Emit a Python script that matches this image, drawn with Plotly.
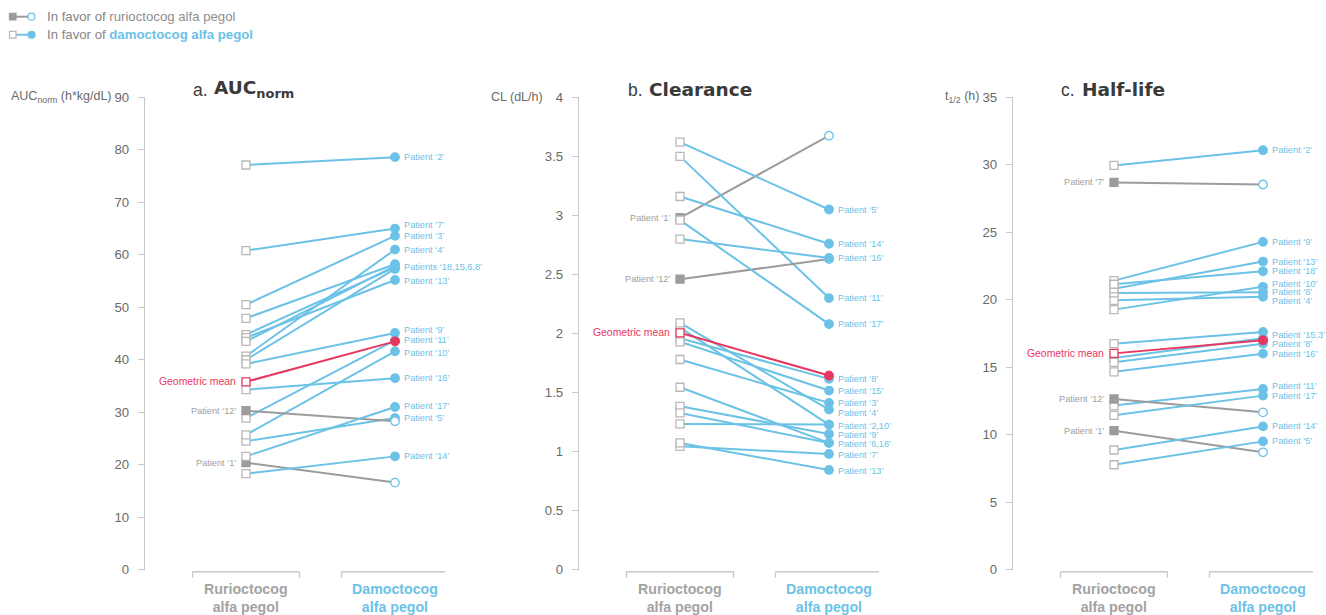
import plotly.graph_objects as go

W, H = 1326, 615
PAGE_PAD = 8          # page padding above/below the figure in the rendered page
PAGE_H = H + 2 * PAGE_PAD
FONT = "Liberation Sans, Arial, sans-serif"
TITLE_FONT = "DejaVu Sans, Liberation Sans, Arial, sans-serif"
BLUE = "#6CC2E6"
GRAY = "#9C9C9C"
RED = "#E8375F"
SQ_EDGE = "#B8B8B8"
AXIS = "#C8C8C8"
TICKTXT = "#6A6A6A"

categories = ["Rurioctocog", "Damoctocog"]
category_colors = ["#A3A3A3", BLUE]

# ---- per-patient values, index 0 -> patient 1 ... index 17 -> patient 18 ----
auc_ruri = [20.4, 77.1, 50.5, 40.7, 24.5, 44.8, 60.8, 40.0, 39.2,
            25.7, 28.9, 30.3, 44.2, 18.3, 43.5, 34.3, 21.6, 47.9]
auc_damo = [16.6, 78.6, 63.6, 61.0, 28.9, 57.6, 65.0, 57.3, 45.1,
            41.6, 43.7, 28.3, 55.2, 21.6, 57.9, 36.5, 31.0, 58.2]
auc_gm = [35.8, 43.5]

cl_ruri = [2.98, 2.05, 1.78, 2.09, 3.62, 1.545, 1.045, 1.96, 1.384,
           1.235, 3.50, 2.46, 1.074, 3.16, 1.93, 2.80, 2.96, 1.328]
cl_damo = [3.675, 1.229, 1.413, 1.356, 3.05, 1.074, 0.98, 1.616, 1.150,
           1.229, 2.30, 2.63, 0.845, 2.76, 1.517, 2.64, 2.08, 1.074]
cl_gm = [2.006, 1.644]

hl_ruri = [10.30, 29.95, 15.69, 19.96, 7.78, 20.51, 28.69, 15.37, 21.42,
           19.27, 12.16, 12.65, 20.81, 8.87, 16.75, 14.66, 11.44, 21.15]
hl_damo = [8.70, 31.08, 17.15, 20.22, 9.51, 20.56, 28.54, 16.75, 24.29,
           20.96, 13.39, 11.66, 22.83, 10.62, 17.62, 16.01, 12.90, 22.11]
hl_gm = [16.03, 17.00]

# right-hand labels: (text, patients whose damoctocog value anchors it, pixel nudge)
auc_labels = [("Patient ‘2’", [2], 0), ("Patient ‘7’", [7], 4), ("Patient ‘3’", [3], 0),
              ("Patient ‘4’", [4], 0), ("Patients ‘18,15,6,8’", [18, 15, 6, 8], 0),
              ("Patient ‘13’", [13], -1), ("Patient ‘9’", [9], 3), ("Patient ‘11’", [11], 0),
              ("Patient ‘10’", [10], -2), ("Patient ‘16’", [16], 0), ("Patient ‘17’", [17], 1),
              ("Patient ‘5’", [5], 0), ("Patient ‘14’", [14], 0)]
cl_labels = [("Patient ‘5’", [5], 0), ("Patient ‘14’", [14], 0), ("Patient ‘16’", [16], 0),
             ("Patient ‘11’", [11], 0), ("Patient ‘17’", [17], 0), ("Patient ‘8’", [8], 0),
             ("Patient ‘15’", [15], 0), ("Patient ‘3’", [3], 0), ("Patient ‘4’", [4], -3),
             ("Patient ‘2,10’", [2, 10], -1), ("Patient ‘9’", [9], -1),
             ("Patient ‘6,18’", [6, 18], -1), ("Patient ‘7’", [7], -1), ("Patient ‘13’", [13], -1)]
hl_labels = [("Patient ‘2’", [2], 0), ("Patient ‘9’", [9], 0), ("Patient ‘13’", [13], 0),
             ("Patient ‘18’", [18], 0), ("Patient ‘10’", [10], 3), ("Patient ‘6’", [6], 0),
             ("Patient ‘4’", [4], -4), ("Patient ‘15,3’", [15], -3), ("Patient ‘8’", [8], 0),
             ("Patient ‘16’", [16], 0), ("Patient ‘11’", [11], 3), ("Patient ‘17’", [17], 0),
             ("Patient ‘14’", [14], 0), ("Patient ‘5’", [5], 0)]

panels = [
    dict(key="", letter="a.", name="AUC<sub>norm</sub>", ytitle="AUC<sub>norm</sub> (h*kg/dL)",
         ruri=auc_ruri, damo=auc_damo, gm=auc_gm, higher_better=True, labels=auc_labels,
         yrange=[0, 90], dtick=10, axis_px=145, title_px=192, ytitle_px=10),
    dict(key="2", letter="b.", name="Clearance", ytitle="CL (dL/h)",
         ruri=cl_ruri, damo=cl_damo, gm=cl_gm, higher_better=False, labels=cl_labels,
         yrange=[0, 4], dtick=0.5, axis_px=579, title_px=627, ytitle_px=490),
    dict(key="3", letter="c.", name="Half-life", ytitle="t<sub>1/2</sub> (h)",
         ruri=hl_ruri, damo=hl_damo, gm=hl_gm, higher_better=True, labels=hl_labels,
         yrange=[0, 35], dtick=5, axis_px=1013, title_px=1060, ytitle_px=944),
]

PLOT_TOP, PLOT_BOT = 98, 570
PX_PER_CAT = 149
LEFT_OFFSET = 101
DOMAIN_W = 300


def px(x):
    return x / W


def py(y):
    # layout position (page pixels, page scaled to H) -> paper fraction
    y_fig = y * PAGE_H / H - PAGE_PAD
    return 1 - y_fig / H


fig = go.Figure()
annotations = []
shapes = []

for p in panels:
    xa, ya = "x" + p["key"], "y" + p["key"]
    ruri, damo = p["ruri"], p["damo"]
    n = len(ruri)
    favors_damo = [(damo[i] > ruri[i]) == p["higher_better"] for i in range(n)]

    # connecting lines
    for i in range(n):
        fig.add_trace(go.Scatter(
            x=[0, 1], y=[ruri[i], damo[i]], mode="lines", xaxis=xa, yaxis=ya,
            line=dict(color=BLUE if favors_damo[i] else GRAY, width=2),
            hoverinfo="skip", showlegend=False, cliponaxis=False))
    fig.add_trace(go.Scatter(
        x=[0, 1], y=p["gm"], mode="lines", xaxis=xa, yaxis=ya,
        line=dict(color=RED, width=2), hoverinfo="skip", showlegend=False, cliponaxis=False))

    # rurioctocog squares
    fig.add_trace(go.Scatter(
        x=[0] * n, y=ruri, mode="markers", xaxis=xa, yaxis=ya,
        marker=dict(symbol="square", size=8,
                    color=["white" if f else GRAY for f in favors_damo],
                    line=dict(color=[SQ_EDGE if f else GRAY for f in favors_damo], width=1.3)),
        showlegend=False, cliponaxis=False))
    # damoctocog circles
    fig.add_trace(go.Scatter(
        x=[1] * n, y=damo, mode="markers", xaxis=xa, yaxis=ya,
        marker=dict(symbol="circle", size=8.5,
                    color=[BLUE if f else "white" for f in favors_damo],
                    line=dict(color=BLUE, width=1.3)),
        showlegend=False, cliponaxis=False))
    # geometric mean markers
    fig.add_trace(go.Scatter(
        x=[0], y=[p["gm"][0]], mode="markers", xaxis=xa, yaxis=ya,
        marker=dict(symbol="square", size=8, color="white", line=dict(color=RED, width=1.3)),
        showlegend=False, cliponaxis=False))
    fig.add_trace(go.Scatter(
        x=[1], y=[p["gm"][1]], mode="markers", xaxis=xa, yaxis=ya,
        marker=dict(symbol="circle", size=9, color=RED, line=dict(color=RED, width=1)),
        showlegend=False, cliponaxis=False))

    # right labels
    for text, pts, nudge in p["labels"]:
        yv = sum(damo[k - 1] for k in pts) / len(pts)
        annotations.append(dict(
            x=1, y=yv, xref=xa, yref=ya, text=text, showarrow=False,
            xanchor="left", yanchor="middle", xshift=7, yshift=nudge,
            font=dict(family=FONT, size=9.2, color=BLUE)))
    # left labels for patients favouring rurioctocog
    for i in range(n):
        if not favors_damo[i]:
            annotations.append(dict(
                x=0, y=ruri[i], xref=xa, yref=ya, text=f"Patient ‘{i + 1}’", showarrow=False,
                xanchor="right", yanchor="middle", xshift=-8,
                font=dict(family=FONT, size=9.2, color="#A0A0A0")))
    annotations.append(dict(
        x=0, y=p["gm"][0], xref=xa, yref=ya, text="Geometric mean", showarrow=False,
        xanchor="right", yanchor="middle", xshift=-8,
        font=dict(family=FONT, size=10.4, color=RED)))

    # category brackets and names
    for c, (cat, col) in enumerate(zip(categories, category_colors)):
        for sh in (dict(x0=c - 0.359, x1=c + 0.359, y0=py(572), y1=py(572)),
                   dict(x0=c - 0.359, x1=c - 0.359, y0=py(572), y1=py(578)),
                   dict(x0=c + 0.359, x1=c + 0.359, y0=py(572), y1=py(578))):
            shapes.append(dict(type="line", xref=xa, yref="paper",
                               line=dict(color=AXIS, width=1.3), **sh))
        annotations.append(dict(
            x=c, y=py(579), xref=xa, yref="paper", text=f"<b>{cat}<br>alfa pegol</b>",
            showarrow=False, xanchor="center", yanchor="top",
            font=dict(family=FONT, size=14.2, color=col)))

    # panel title and y-axis title
    annotations.append(dict(
        x=px(p["title_px"] - 1), y=py(91), xref="paper", yref="paper", text=p["letter"],
        showarrow=False, xanchor="left", yanchor="middle",
        font=dict(family=FONT, size=17.5, color="#3A3A3A")))
    annotations.append(dict(
        x=px(p["title_px"] + 20), y=py(90), xref="paper", yref="paper", text=f"<b>{p['name']}</b>",
        showarrow=False, xanchor="left", yanchor="middle",
        font=dict(family=TITLE_FONT, size=18.5, color="#3A3A3A")))
    annotations.append(dict(
        x=px(p["ytitle_px"] - 1), y=py(98), xref="paper", yref="paper", text=p["ytitle"],
        showarrow=False, xanchor="left", yanchor="middle",
        font=dict(family=FONT, size=12.5, color=TICKTXT)))

    x0 = p["axis_px"]
    fig.update_layout(**{
        "xaxis" + p["key"]: dict(
            domain=[px(x0), px(x0 + DOMAIN_W)],
            range=[-LEFT_OFFSET / PX_PER_CAT, (DOMAIN_W - LEFT_OFFSET) / PX_PER_CAT],
            visible=False, anchor=ya),
        "yaxis" + p["key"]: dict(
            domain=[py(PLOT_BOT), py(PLOT_TOP)], range=p["yrange"], dtick=p["dtick"],
            showline=True, linecolor=AXIS, linewidth=1.3, ticks="outside", ticklen=6,
            tickcolor=AXIS, tickwidth=1.3, showgrid=False, zeroline=False, anchor=xa,
            tickfont=dict(family=FONT, size=13.2, color=TICKTXT), ticklabelstandoff=6),
    })

# legend drawn at top-left
LEG = [(17.5, GRAY, "white", GRAY, GRAY,
        "In favor of <span style='color:#8E8E8E'>rurioctocog alfa pegol</span>"),
       (35.5, "white", BLUE, BLUE, SQ_EDGE,
        f"In favor of <span style='color:{BLUE}'><b>damoctocog alfa pegol</b></span>")]
for yy, sq_fill, circ_fill, line_col, sq_edge, text in LEG:
    shapes.append(dict(type="line", xref="paper", yref="paper", x0=px(16), x1=px(29),
                       y0=py(yy), y1=py(yy), line=dict(color=line_col, width=2)))
    shapes.append(dict(type="rect", xref="paper", yref="paper", x0=px(9.5), x1=px(16),
                       y0=py(yy - 3.3), y1=py(yy + 3.3), fillcolor=sq_fill,
                       line=dict(color=sq_edge, width=1.2)))
    shapes.append(dict(type="circle", xref="paper", yref="paper", x0=px(28), x1=px(35),
                       y0=py(yy - 3.5), y1=py(yy + 3.5), fillcolor=circ_fill,
                       line=dict(color=BLUE, width=1.2)))
    annotations.append(dict(x=px(45), y=py(yy), xref="paper", yref="paper", text=text,
                            showarrow=False, xanchor="left", yanchor="middle",
                            font=dict(family=FONT, size=13.2, color="#858585")))

fig.update_layout(
    width=W, height=H, margin=dict(l=0, r=0, t=0, b=0),
    paper_bgcolor="white", plot_bgcolor="white", showlegend=False,
    annotations=annotations, shapes=shapes,
)

fig.write_html("out.html")
